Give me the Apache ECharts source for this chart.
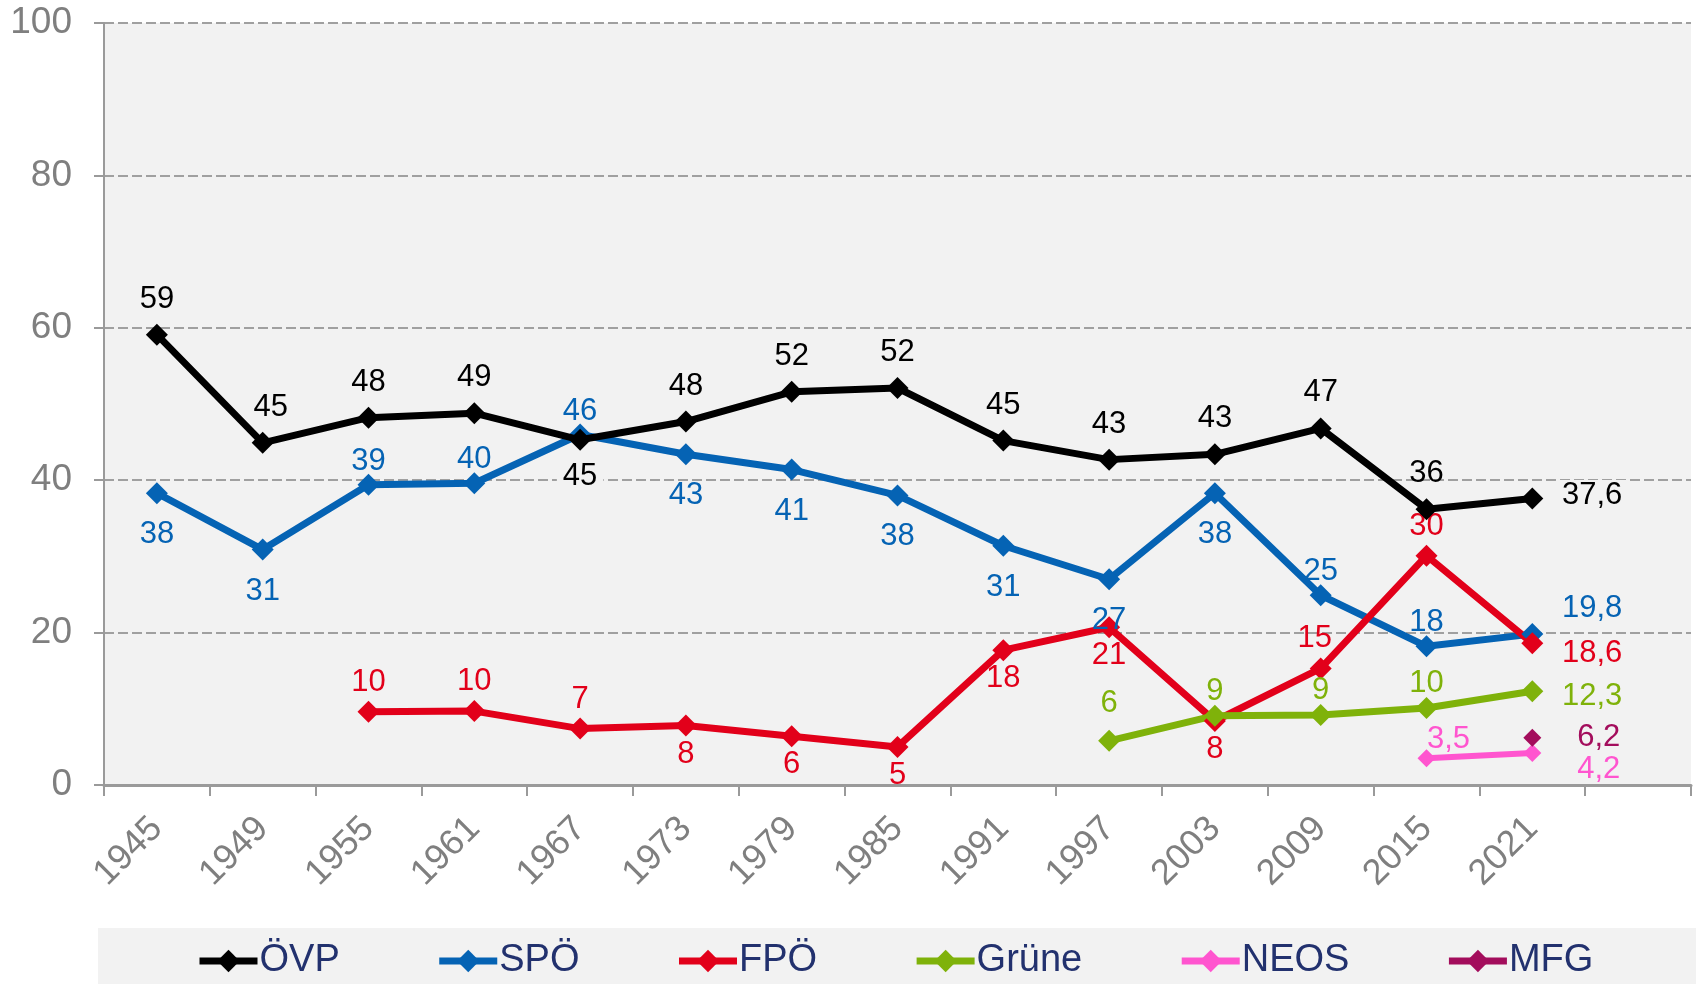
<!DOCTYPE html>
<html>
<head>
<meta charset="utf-8">
<script src="https://cdn.jsdelivr.net/npm/echarts@6/dist/echarts.min.js"></script>
<style>
  html, body { margin: 0; padding: 0; background: #ffffff; }
  #chart { width: 1696px; height: 984px; }
</style>
</head>
<body>
<div id="chart"></div>
<script>
const years = ["1945", "1949", "1955", "1961", "1967", "1973", "1979", "1985", "1991", "1997", "2003", "2009", "2015", "2021", ""];
const yTicks = [0, 20, 40, 60, 80, 100];

const ovp = [59.1, 44.9, 48.2, 48.8, 45.3, 47.7, 51.6, 52.1, 45.2, 42.7, 43.4, 46.8, 36.2, 37.6, null];
const spo = [38.3, 30.9, 39.4, 39.6, 46.0, 43.4, 41.4, 38.0, 31.4, 27.0, 38.3, 24.9, 18.2, 19.8, null];
const fpo = [null, null, 9.6, 9.7, 7.4, 7.8, 6.4, 5.0, 17.7, 20.7, 8.4, 15.3, 30.1, 18.6, null];
const gruene = [null, null, null, null, null, null, null, null, null, 5.8, 9.1, 9.2, 10.1, 12.3, null];
const neos = [null, null, null, null, null, null, null, null, null, null, null, null, 3.5, 4.2, null];
const mfg = [null, null, null, null, null, null, null, null, null, null, null, null, null, 6.2, null];

// label placement: t above, h higher above, u above and a bit right, l above and a bit left,
// n above and well right, b below, r right of the last point;
// upper case = label box painted with the plot colour
const ovpPlace = ["t", "u", "t", "t", "B", "t", "t", "t", "t", "t", "t", "t", "t", "R"];
const spoPlace = ["b", "b", "t", "t", "t", "b", "b", "b", "b", "b", "b", "t", "t", "r"];
const fpoPlace = ["", "", "t", "t", "t", "b", "b", "b", "b", "b", "b", "l", "t", "r"];
const gruenePlace = ["", "", "", "", "", "", "", "", "", "h", "t", "t", "t", "r"];
const neosPlace = ["", "", "", "", "", "", "", "", "", "", "", "", "n", "r"];
const mfgPlace = ["", "", "", "", "", "", "", "", "", "", "", "", "", "r"];

const FONT = "Liberation Sans, Arial, sans-serif";
const PLOT_BG = "#F2F2F2";
const LAST = 13;

const fmt = (v, decimals) => (decimals ? v.toFixed(1).replace(".", ",") : String(Math.round(v)));

const makeSeries = (name, data, place, color, opts) => {
  const o = Object.assign({ width: 7, size: 22, above: 9, below: 10, endDy: 0, allDecimals: false }, opts);
  return {
    name,
    type: "line",
    symbol: "diamond",
    symbolSize: o.size,
    connectNulls: false,
    lineStyle: { color, width: o.width },
    itemStyle: { color },
    z: o.z || 2,
    data: data.map((v, i) => {
      if (v === null) return null;
      const p = place[i];
      const label = {
        show: true,
        color,
        fontFamily: FONT,
        fontSize: 31,
        formatter: fmt(v, o.allDecimals || i === LAST),
      };
      if (p === "B" || p === "R") {
        label.backgroundColor = PLOT_BG;
        label.padding = [0, 6];
      }
      const k = p.toLowerCase();
      if (k === "t" || k === "u" || k === "l" || k === "h") {
        label.position = "top";
        label.distance = o.above + (k === "h" ? 13 : 0);
        if (k === "u") label.offset = [8, 0];
        if (k === "l") label.offset = [-6, 0];
      } else if (k === "b") {
        label.position = "bottom";
        label.distance = o.below;
      } else if (k === "n") {
        label.position = "top";
        label.distance = -6;
        label.offset = [22, 0];
      } else if (k === "r") {
        label.position = "right";
        label.align = "right";
        label.distance = 79 + (p === "R" ? 6 : 0);
        label.offset = [0, o.endDy];
      }
      return { value: v, label };
    }),
  };
};

const chart = echarts.init(document.getElementById("chart"));

chart.setOption({
  animation: false,
  textStyle: { fontFamily: FONT },
  graphic: [
    {
      type: "rect",
      left: 98,
      top: 928,
      shape: { width: 1598, height: 56 },
      style: { fill: PLOT_BG },
      z: -1,
    },
  ],
  grid: {
    left: 104,
    right: 5,
    top: 23,
    bottom: 199,
    show: true,
    backgroundColor: PLOT_BG,
    borderWidth: 0,
  },
  legend: {
    left: 191,
    top: 937,
    itemWidth: 58,
    itemHeight: 28,
    itemGap: 96,
    lineStyle: { width: 7 },
    textStyle: { color: "#22316E", fontSize: 38, fontFamily: FONT, padding: [0, 0, 0, -3] },
    data: ["ÖVP", "SPÖ", "FPÖ", "Grüne", "NEOS", "MFG"],
  },
  xAxis: {
    type: "category",
    data: years,
    boundaryGap: true,
    axisLine: { lineStyle: { color: "#9A9A9A", width: 3 } },
    axisTick: { show: true, length: 11, interval: 0, lineStyle: { color: "#9A9A9A", width: 2 } },
    axisLabel: {
      interval: 0,
      rotate: 45,
      margin: 38,
      color: "#7F7F7F",
      fontSize: 36,
      fontFamily: FONT,
    },
    splitLine: { show: false },
  },
  yAxis: {
    type: "value",
    min: yTicks[0],
    max: yTicks[yTicks.length - 1],
    interval: yTicks[1] - yTicks[0],
    axisLine: { show: true, lineStyle: { color: "#9A9A9A", width: 2 } },
    axisTick: { show: true, length: 10, lineStyle: { color: "#9A9A9A", width: 2 } },
    axisLabel: { margin: 32, color: "#7F7F7F", fontSize: 37, fontFamily: FONT },
    splitLine: { lineStyle: { color: "#A0A0A0", width: 2, type: [10, 4] } },
  },
  series: [
    makeSeries("ÖVP", ovp, ovpPlace, "#000000", { endDy: -3, z: 3 }),
    makeSeries("SPÖ", spo, spoPlace, "#0563B4", { above: -3, below: 15, endDy: -26 }),
    makeSeries("FPÖ", fpo, fpoPlace, "#E2001A", { above: 3, below: 2, endDy: 10 }),
    makeSeries("Grüne", gruene, gruenePlace, "#7FB20A", { above: -2, endDy: 5 }),
    makeSeries("NEOS", neos, neosPlace, "#FF55CF", { width: 6, size: 18, allDecimals: true, endDy: 16 }),
    makeSeries("MFG", mfg, mfgPlace, "#A30D5C", { size: 18, endDy: 0 }),
  ],
});
</script>
</body>
</html>
